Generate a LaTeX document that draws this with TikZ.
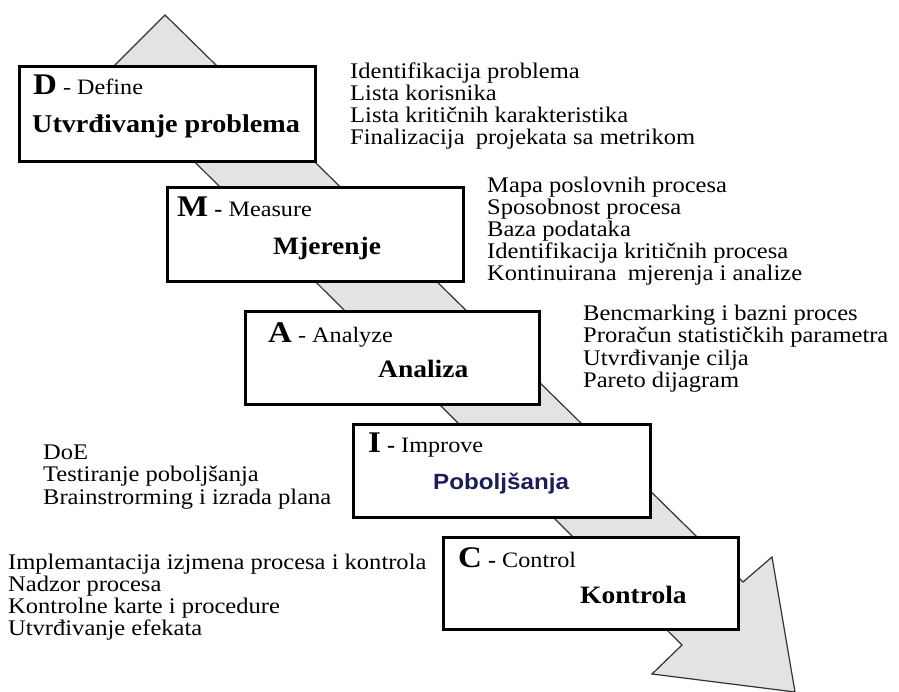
\documentclass[tikz,border=0pt]{standalone}
\usepackage{fontspec}
\setmainfont{Liberation Serif}[FakeStretch=1.1]
\newfontfamily\sansb{Liberation Sans}[FakeStretch=1.1]
\definecolor{arrowfill}{HTML}{E3E3E3}
\definecolor{navy}{HTML}{1C1C5A}
\begin{document}
\begin{tikzpicture}[x=1pt,y=-1pt,
  lst/.style={anchor=base west,inner sep=0pt,font=\fontsize{22.3}{22}\selectfont},
  boxframe/.style={draw=black,line width=3pt,fill=white},
  head/.style={anchor=base west,inner sep=0pt,font=\fontsize{22}{22}\selectfont},
  ttl/.style={anchor=base west,inner sep=0pt,font=\fontsize{25}{25}\selectfont\bfseries}]
\useasboundingbox (0,0) rectangle (899,692);
% big arrow
\draw[fill=arrowfill,draw=black!80,line width=1.2pt,line join=miter]
  (165,15) -- (743,582) -- (772,557) -- (795,692) -- (652,674) -- (682,645) -- (106,74) -- cycle;
% boxes
\draw[boxframe] (19,67) rectangle (315,162);
\draw[boxframe] (167,188) rectangle (463,282);
\draw[boxframe] (245,312) rectangle (539,404);
\draw[boxframe] (353,424) rectangle (650,517);
\draw[boxframe] (443,537) rectangle (738,629);
% box texts
\node[head] (dh) at (33,95) {{\fontsize{30}{30}\selectfont\bfseries D} - Define};
\node[ttl,font=\fontsize{25.6}{25}\selectfont\bfseries] (dt) at (32,133) {Utvrđivanje problema};
\node[head] (mh) at (177,217) {{\fontsize{30}{30}\selectfont\bfseries M} \textbf{-} Measure};
\node[ttl] (mt) at (273,255) {Mjerenje};
\node[head] (ah) at (268,343) {{\fontsize{30}{30}\selectfont\bfseries A} - Analyze};
\node[ttl] (at) at (378,377) {Analiza};
\node[head] (ih) at (368,452) {{\fontsize{30}{30}\selectfont\bfseries I} \textbf{-} Improve};
\node[anchor=base west,inner sep=0pt,text=navy,font=\sansb\fontsize{22}{22}\selectfont\bfseries] (it) at (433,489) {Poboljšanja};
\node[head] (ch) at (458,567) {{\fontsize{30}{30}\selectfont\bfseries C} \textbf{-} Control};
\node[ttl] (ct) at (580,603) {Kontrola};
% lists
\foreach \t [count=\i from 0] in {Identifikacija problema, Lista korisnika, Lista kritičnih karakteristika, Finalizacija\hspace{5pt} projekata sa metrikom}
  \node[lst] (dl\i) at (350,{79+22*\i}) {\t};
\foreach \t [count=\i from 0] in {Mapa poslovnih procesa, Sposobnost procesa, Baza podataka, Identifikacija kritičnih procesa, Kontinuirana\hspace{5pt} mjerenja i analize}
  \node[lst] (ml\i) at (487,{193+22*\i}) {\t};
\foreach \t [count=\i from 0] in {Bencmarking i bazni proces, Proračun statističkih parametra, Utvrđivanje cilja, Pareto dijagram}
  \node[lst] (al\i) at (583,{321+22*\i}) {\t};
\foreach \t [count=\i from 0] in {DoE, Testiranje poboljšanja, Brainstrorming i izrada plana}
  \node[lst] (il\i) at (43,{459+22.5*\i}) {\t};
\foreach \t [count=\i from 0] in {Implemantacija izjmena procesa i kontrola, Nadzor procesa, Kontrolne karte i procedure, Utvrđivanje efekata}
  \node[lst] (cl\i) at (8,{569+22.3*\i}) {\t};
\end{tikzpicture}
\end{document}
